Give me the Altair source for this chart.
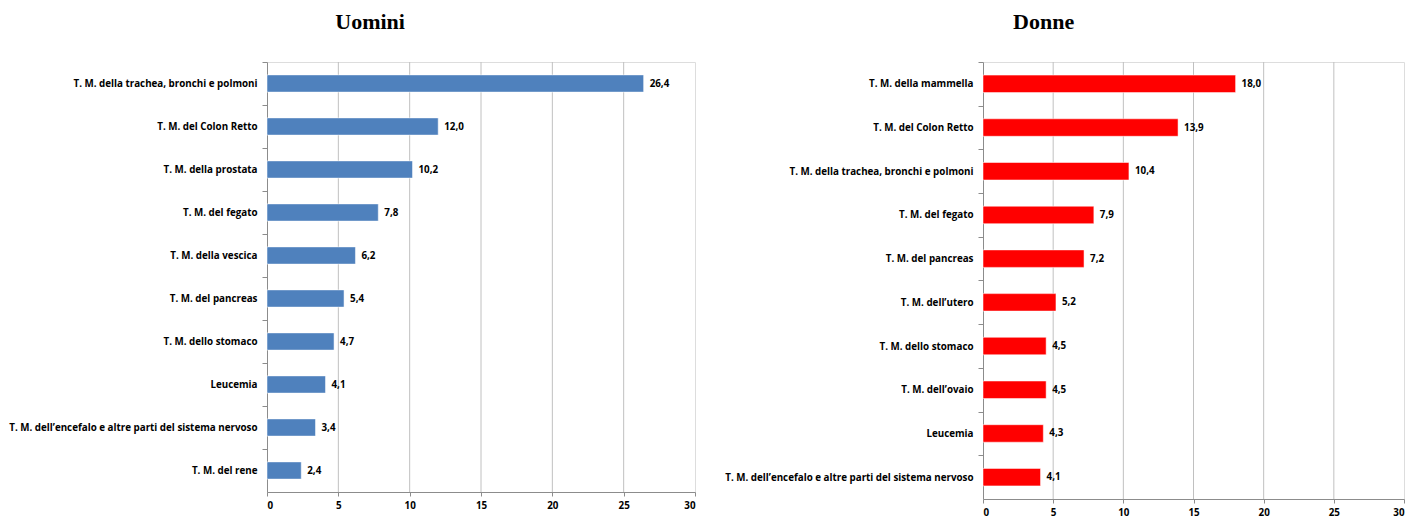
import altair as alt
import pandas as pd

men_labels = [
    "T. M. della trachea, bronchi e polmoni",
    "T. M. del Colon Retto",
    "T. M. della prostata",
    "T. M. del fegato",
    "T. M. della vescica",
    "T. M. del pancreas",
    "T. M. dello stomaco",
    "Leucemia",
    "T. M. dell\u2019encefalo e altre parti del sistema nervoso",
    "T. M. del rene",
]
men_values = [26.4, 12.0, 10.2, 7.8, 6.2, 5.4, 4.7, 4.1, 3.4, 2.4]

women_labels = [
    "T. M. della mammella",
    "T. M. del Colon Retto",
    "T. M. della trachea, bronchi e polmoni",
    "T. M. del fegato",
    "T. M. del pancreas",
    "T. M. dell\u2019utero",
    "T. M. dello stomaco",
    "T. M. dell\u2019ovaio",
    "Leucemia",
    "T. M. dell\u2019encefalo e altre parti del sistema nervoso",
]
women_values = [18.0, 13.9, 10.4, 7.9, 7.2, 5.2, 4.5, 4.5, 4.3, 4.1]

x_ticks = [0, 5, 10, 15, 20, 25, 30]
grid_values = [5, 10, 15, 20, 25]

LABEL_FONT = "Open Sans"
FS = 9.8
AXIS_GRAY = "#8c8c8c"


def panel(labels, values, color, title, width, height, dx):
    df = pd.DataFrame({
        "cat": labels,
        "val": values,
        "txt": [f"{v:.1f}".replace(".", ",") for v in values],
    })
    grid_df = pd.DataFrame({"g": grid_values})
    step = height / 10
    y = alt.Y(
        "cat:N",
        sort=labels,
        title=None,
        scale=alt.Scale(paddingInner=0.6, paddingOuter=0.3),
        axis=alt.Axis(
            labelFont=LABEL_FONT, labelFontSize=FS, labelFontWeight="bold",
            labelColor="black", labelPadding=5, labelLimit=400,
            domainColor=AXIS_GRAY, tickColor=AXIS_GRAY, tickSize=5, tickWidth=1,
            bandPosition=0, tickOffset=-0.3 * step, labelOffset=0.3 * step,
            grid=False,
        ),
    )
    xscale = alt.Scale(domain=[0, 30], nice=False)
    x = alt.X(
        "val:Q",
        title=None,
        scale=xscale,
        axis=alt.Axis(
            values=x_ticks, format="d",
            labelFont=LABEL_FONT, labelFontSize=FS, labelFontWeight="bold",
            labelColor="black", labelPadding=4,
            domainColor=AXIS_GRAY, ticks=True, tickColor=AXIS_GRAY, tickSize=4,
            grid=False,
        ),
    )
    grid = alt.Chart(grid_df).mark_rule(color="#c0c0c0", strokeWidth=1).encode(
        x=alt.X("g:Q", scale=xscale, title=None)
    )
    base = alt.Chart(df)
    bars = base.mark_bar(color=color, stroke="#ffffff", strokeOpacity=0.5, strokeWidth=1).encode(x=x, y=y)
    text = base.mark_text(
        align="left", baseline="middle", dx=6,
        font=LABEL_FONT, fontSize=FS, fontWeight="bold", color="black",
    ).encode(x="val:Q", y=alt.Y("cat:N", sort=labels), text="txt:N")
    return (grid + bars + text).properties(
        width=width, height=height,
        title=alt.TitleParams(
            title, font="Liberation Serif", fontSize=22, fontWeight="bold",
            color="black", anchor="middle", frame="bounds", dx=dx, offset=28,
        ),
    )


left = panel(men_labels, men_values, "#4f81bd", "Uomini", 428, 430, 18)
right = panel(women_labels, women_values, "#ff0000", "Donne", 421, 437, -21)

chart = alt.hconcat(left, right, spacing=28).properties(
    padding={"left": 8, "top": 10, "right": 0, "bottom": 0}
).configure_view(stroke=None).configure(background="white")

chart.save("out.html", embed_options={"renderer": "svg", "actions": False})
